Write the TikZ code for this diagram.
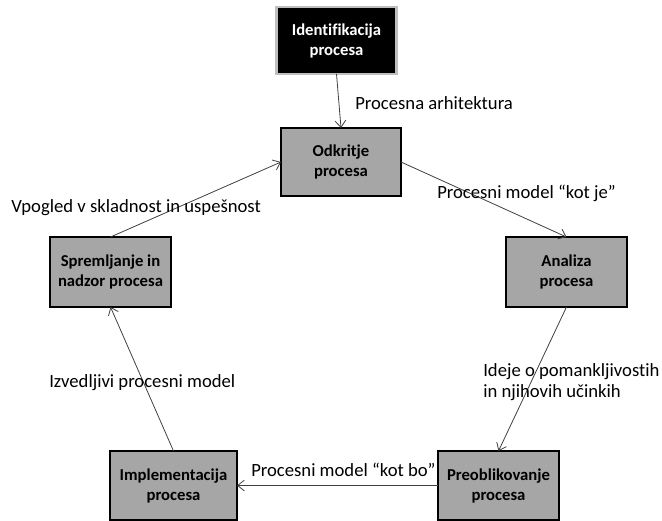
\documentclass[tikz,border=0pt]{standalone}
\usepackage{fontspec}
\setmainfont{Carlito}[Ligatures=NoCommon]
\usetikzlibrary{arrows.meta}
\definecolor{boxgray}{HTML}{A6A6A6}
\definecolor{linegray}{HTML}{404040}
\definecolor{lightborder}{HTML}{BFBFBF}
\tikzset{
  procbox/.style={draw=black, line width=1.1pt, fill=boxgray, inner sep=0pt, outer sep=0pt,
    align=center, font=\fontsize{12.5}{15}\selectfont\bfseries, text=black},
  topbox/.style={procbox, fill=black, draw=lightborder, line width=1.6pt, text=white},
  flow/.style={draw=linegray, line width=0.6pt, -{Straight Barb[length=5pt,width=8pt,line width=0.6pt]}},
  lbl/.style={anchor=west, inner sep=0pt, align=left, font=\fontsize{14}{15.8}\selectfont, text=black}
}
\begin{document}
\begin{tikzpicture}[x=0.75pt, y=-0.75pt]
\useasboundingbox[fill=white] (0,0) rectangle (662,521);
\node[topbox, minimum width=90pt, minimum height=50pt] (ident) at (336.5,40.5) {Identifikacija\\procesa};
\node[procbox, minimum width=90pt, minimum height=51pt] (odk) at (341,162) {Odkritje\\procesa};
\node[procbox, minimum width=90.75pt, minimum height=52.5pt] (sprem) at (110.5,272) {Spremljanje in\\nadzor procesa};
\node[procbox, minimum width=90.75pt, minimum height=52.5pt] (anal) at (566.5,272) {Analiza\\procesa};
\node[procbox, minimum width=95.25pt, minimum height=51.75pt] (impl) at (173.5,485.5) {Implementacija\\procesa};
\node[procbox, minimum width=90.75pt, minimum height=51.75pt] (preob) at (498.5,485.5) {Preoblikovanje\\procesa};

\draw[flow] (ident.south) -- (odk.north);
\draw[flow] (odk.east) -- (anal.north);
\draw[flow] (anal.south) -- (preob.north);
\draw[flow] (preob.west) -- (impl.east);
\draw[flow] (impl.north) -- (sprem.south);
\draw[flow] (sprem.north) -- (odk.west);

\node[lbl] (l1) at (355,103) {Procesna arhitektura};
\node[lbl] (l2) at (437,193) {Procesni model “kot je”};
\node[lbl] (l3) at (11,208) {Vpogled v skladnost in uspešnost};
\node[lbl] (l4) at (483,382) {Ideje o pomankljivostih\\in njihovih učinkih};
\node[lbl] (l5) at (49,383) {Izvedljivi procesni model};
\node[lbl] (l6) at (251,470) {Procesni model “kot bo”};
\end{tikzpicture}
\end{document}
